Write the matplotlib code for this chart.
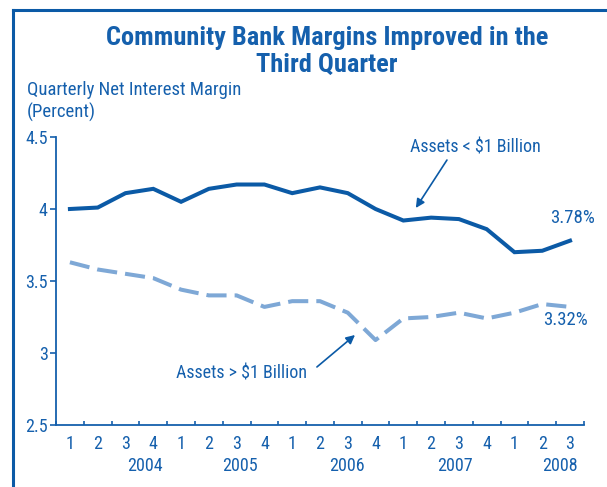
import matplotlib
matplotlib.use('Agg')
import matplotlib.pyplot as plt
from matplotlib.lines import Line2D

# ── Data ──────────────────────────────────────────────────────
quarters = ['1', '2', '3', '4'] * 4 + ['1', '2', '3']
years = ['2004', '2005', '2006', '2007', '2008']
small_banks = [4.00, 4.01, 4.11, 4.14, 4.05, 4.14, 4.17, 4.17, 4.11, 4.15,
               4.11, 4.00, 3.92, 3.94, 3.93, 3.86, 3.70, 3.71, 3.78]
large_banks = [3.63, 3.58, 3.55, 3.52, 3.44, 3.40, 3.40, 3.32, 3.36, 3.36,
               3.28, 3.09, 3.24, 3.25, 3.28, 3.24, 3.28, 3.34, 3.32]
yticks = [2.5, 3, 3.5, 4, 4.5]
ytick_labels = ['2.5', '3', '3.5', '4', '4.5']

DARK = '#0b5aa6'
LIGHT = '#7ea8d6'
TEXT = '#1560ad'

plt.rcParams['font.family'] = ['Roboto Condensed', 'DejaVu Sans']

fig = plt.figure(figsize=(6.07, 4.87), dpi=100)
ax = fig.add_axes([0.0923, 0.1273, 0.8697, 0.5914])

x = list(range(len(small_banks)))
ax.plot(x, small_banks, color=DARK, lw=2.9, solid_joinstyle='miter')
ax.plot(x, large_banks, color=LIGHT, lw=2.9, linestyle=(0, (5, 2)))

ax.set_xlim(-0.5, len(x) - 0.5)
ax.set_ylim(2.5, 4.5)
ax.set_yticks(yticks)
ax.set_yticklabels(ytick_labels)
ax.set_xticks([i - 0.5 for i in range(len(x) + 1)])
ax.set_xticklabels([])
ax.tick_params(axis='x', direction='in', length=3, color=TEXT, width=1.2)
ax.tick_params(axis='y', direction='out', length=4, color=TEXT, width=1.2,
               labelcolor=TEXT, labelsize=13, pad=2)
for s in ['top', 'right']:
    ax.spines[s].set_visible(False)
for s in ['left', 'bottom']:
    ax.spines[s].set_color(TEXT)
    ax.spines[s].set_linewidth(1.3)

# quarter and year labels
for i, q in enumerate(quarters):
    ax.text(i, -0.033, q, transform=ax.get_xaxis_transform(), ha='center',
            va='top', color=TEXT, fontsize=13)
year_pos = [2.7, 6.12, 9.97, 13.86, 17.64]
for xp, yr in zip(year_pos, years):
    ax.text(xp, -0.112, yr, transform=ax.get_xaxis_transform(), ha='center',
            va='top', color=TEXT, fontsize=13)

# annotations
ax.text(14.58, 4.43, 'Assets < $1 Billion', ha='center', va='center',
        color=TEXT, fontsize=13)
ax.annotate('', xy=(12.45, 4.007), xytext=(13.57, 4.34),
            arrowprops=dict(arrowstyle='-|>', color=DARK, lw=1.2,
                            mutation_scale=13, shrinkA=0, shrinkB=0))
ax.text(6.17, 2.86, 'Assets > $1 Billion', ha='center', va='center',
        color=TEXT, fontsize=13)
ax.annotate('', xy=(10.26, 3.125), xytext=(8.89, 2.903),
            arrowprops=dict(arrowstyle='-|>', color=DARK, lw=1.2,
                            mutation_scale=13, shrinkA=0, shrinkB=0))
ax.text(18.1, 3.94, f'{small_banks[-1]:.2f}%', ha='center', va='center',
        color=TEXT, fontsize=13.5)
ax.text(17.85, 3.23, f'{large_banks[-1]:.2f}%', ha='center', va='center',
        color=TEXT, fontsize=13.5)

# title and axis caption
fig.text(0.539, 0.894, 'Community Bank Margins Improved in the\nThird Quarter',
         ha='center', va='center', color=TEXT, fontsize=19, fontweight='bold',
         linespacing=1.12)
fig.text(0.044, 0.792, 'Quarterly Net Interest Margin\n(Percent)', ha='left',
         va='center', color=TEXT, fontsize=13.5, linespacing=1.22)

# frame
fig.add_artist(Line2D([0.0214, 0.0214], [0, 0.979], color=DARK, lw=2.2))
fig.add_artist(Line2D([0.0214, 1.0], [0.979, 0.979], color=DARK, lw=2.2))

fig.savefig('out.png', dpi=100)
